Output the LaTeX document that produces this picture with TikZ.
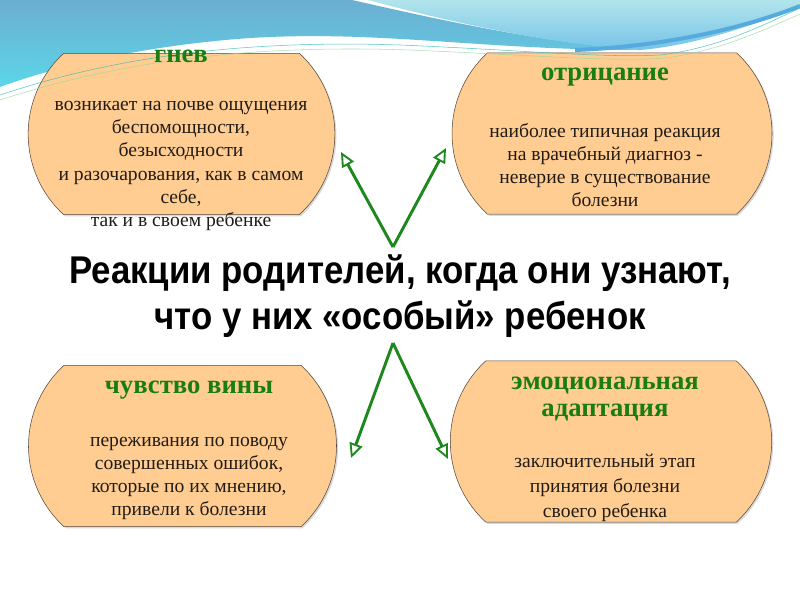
\documentclass[tikz,border=0pt]{standalone}
\usepackage{fontspec}
\setmainfont{Liberation Serif}
\newfontfamily\headfont[FakeStretch=0.9]{Liberation Sans}
\usetikzlibrary{arrows.meta,shapes.misc,positioning,shadows}
\definecolor{boxfill}{RGB}{255,205,145}
\definecolor{boxline}{RGB}{85,72,60}
\definecolor{titlegreen}{RGB}{25,125,20}
\definecolor{arrowgreen}{RGB}{30,135,30}
\definecolor{bgsteel}{RGB}{108,174,210}
\definecolor{bgcyan}{RGB}{92,214,232}
\definecolor{bglight}{RGB}{178,228,236}
\definecolor{bgblue}{RGB}{118,196,232}
\definecolor{bandblue}{RGB}{85,170,222}
\definecolor{lineteal}{RGB}{50,185,175}
\definecolor{linegreen}{RGB}{150,215,160}
\definecolor{bodyink}{RGB}{35,28,22}
\begin{document}
\begin{tikzpicture}[x=0.75pt,y=-0.75pt,
	reaction/.style={ rounded rectangle, rounded rectangle arc length=95, draw=boxline, thin, fill=boxfill, inner sep=0pt, minimum height=121pt, drop shadow={shadow xshift=1.2pt,shadow yshift=-1.2pt,opacity=0.3} },
	headline/.style={ font=\fontsize{20}{20.3}\selectfont\bfseries, text=titlegreen, align=center, inner sep=0pt },
	boxtext/.style={ font=\fontsize{14.7}{17.4}\selectfont, text=bodyink, align=center, inner sep=0pt },
	question/.style={ font=\headfont\bfseries\fontsize{29}{34.5}\selectfont, align=center, inner sep=0pt },
	link/.style={ draw=arrowgreen, line width=2.2pt, -{Triangle[length=11pt,width=10pt,line width=1.4pt,fill=white]} }
]

\useasboundingbox (0,0) rectangle (800,600);
\fill[white] (0,0) rectangle (800,600);
\shade[top color=bgsteel,bottom color=bgcyan]
  (0,0) -- (352,0) .. controls (440,20) and (540,42) .. (640,50)
  .. controls (480,50) and (380,30) .. (250,38)
  .. controls (150,45) and (60,65) .. (0,87) -- cycle;
\shade[top color=bglight,bottom color=bgblue]
  (368,0) .. controls (450,22) and (550,44) .. (640,50)
  .. controls (700,45) and (770,20) .. (800,5) -- (800,0) -- cycle;
\draw[bandblue,line width=3pt] (575,50) .. controls (680,46) and (760,22) .. (800,6);

\node at (181.5,134) (gnev) [reaction,minimum width=230pt] {};
\node at (612,133.5) (otric) [reaction,minimum width=240pt] {};
\node at (182.5,446) (vina) [reaction,minimum width=231pt] {};
\node at (611,441.5) (adapt) [reaction,minimum width=241pt] {};

\draw[lineteal,thin,opacity=0.8] (0,95) .. controls (120,55) and (250,40) .. (400,45)
  .. controls (520,50) and (600,58) .. (660,55) .. controls (720,48) and (770,22) .. (800,8);
\draw[linegreen,thin,opacity=0.8] (0,100) .. controls (130,58) and (260,45) .. (410,50)
  .. controls (530,55) and (610,62) .. (665,58) .. controls (725,50) and (772,26) .. (800,14);

\node at (181,56) (gnevT) [headline] {гнев};
\node at (181,166) (gnevB) [boxtext] {возникает на почве ощущения\\беспомощности,\\безысходности\\и разочарования, как в самом\\себе,\\так и в своем ребенке};
\node at (605,77) (otricT) [headline] {отрицание};
\node at (605,165) (otricB) [boxtext] {наиболее типичная реакция\\на врачебный диагноз -\\неверие в существование\\болезни};
\node at (189,390) (vinaT) [headline] {чувство вины};
\node at (189,478.5) (vinaB) [boxtext] {переживания по поводу\\совершенных ошибок,\\ которые по их мнению,\\привели к болезни};
\node at (605,399) (adaptT) [headline] {эмоциональная\\адаптация};
\node at (605,488) (adaptB) [boxtext,font=\fontsize{14.7}{18.8}\selectfont] {заключительный этап\\принятия болезни\\своего ребенка};

\node at (400,296) (reakcii) [question] {Реакции родителей, когда они узнают,\\что у них «особый» ребенок};

\coordinate (topTip) at (393,247);
\coordinate (botTip) at (393,343);
\coordinate (gnevEnd) at (341,152);
\coordinate (otricEnd) at (446,148);
\coordinate (vinaEnd) at (351,458);
\coordinate (adaptEnd) at (448,459);
\draw[link] (topTip) -- (gnevEnd);
\draw[link] (topTip) -- (otricEnd);
\draw[link] (botTip) -- (vinaEnd);
\draw[link] (botTip) -- (adaptEnd);

\end{tikzpicture}
\end{document}
